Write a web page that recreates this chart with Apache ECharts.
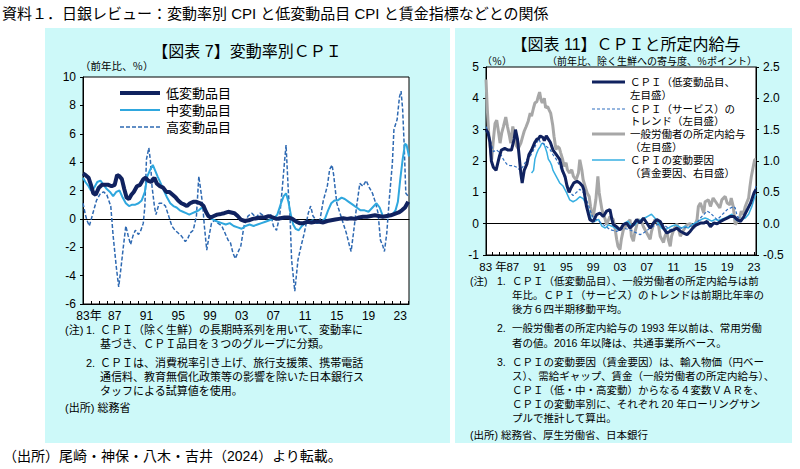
<!DOCTYPE html>
<html><head><meta charset="utf-8">
<script src="https://cdn.jsdelivr.net/npm/echarts/dist/echarts.min.js"></script>
<style>html,body{margin:0;padding:0;background:#fff;}#c{width:800px;height:469px;}</style>
</head><body><div id="c"></div>
<script>
// ---------- Chart 7 (left): CPI by variability, y/y % ----------
const lowVar = [[1983.0,3.2],[1983.3,3.1],[1983.7,2.9],[1984.0,2.4],[1984.3,1.8],[1984.6,1.7],[1985.0,2.2],[1985.4,2.4],[1985.8,2.4],[1986.2,2.4],[1986.6,2.3],[1987.0,2.4],[1987.3,3.1],[1987.6,3.0],[1987.9,2.8],[1988.2,2.1],[1988.5,1.5],[1988.8,1.4],[1989.1,1.7],[1989.4,1.9],[1989.8,2.3],[1990.2,2.4],[1990.6,2.8],[1990.9,2.9],[1991.2,2.7],[1991.6,2.6],[1992.0,2.9],[1992.3,2.5],[1992.7,2.3],[1993.1,2.2],[1993.5,1.9],[1993.9,1.9],[1994.3,1.7],[1994.7,1.5],[1995.0,1.3],[1995.4,1.1],[1995.8,1.0],[1996.1,0.9],[1996.5,1.1],[1996.9,1.2],[1997.3,1.2],[1997.8,1.1],[1998.2,0.9],[1998.5,0.5],[1998.8,0.2],[1999.1,0.1],[1999.5,0.2],[1999.9,0.3],[2000.4,0.35],[2000.8,0.4],[2001.3,0.5],[2001.7,0.45],[2002.1,0.4],[2002.5,0.2],[2002.9,-0.05],[2003.4,-0.15],[2003.9,-0.1],[2004.4,0.0],[2004.9,0.05],[2005.4,0.1],[2005.9,0.1],[2006.4,0.2],[2006.9,0.1],[2007.4,0.0],[2007.9,0.05],[2008.4,0.1],[2008.9,0.1],[2009.4,0.0],[2009.9,-0.2],[2010.3,-0.3],[2010.8,-0.3],[2011.3,-0.2],[2011.8,-0.25],[2012.3,-0.2],[2012.8,-0.2],[2013.3,-0.25],[2013.8,-0.15],[2014.3,-0.1],[2014.8,-0.05],[2015.3,0.0],[2015.8,0.05],[2016.3,0.0],[2016.8,0.05],[2017.3,0.0],[2017.8,0.1],[2018.3,0.15],[2018.8,0.15],[2019.3,0.2],[2019.8,0.25],[2020.3,0.2],[2020.8,0.15],[2021.3,0.2],[2021.8,0.25],[2022.3,0.35],[2022.8,0.45],[2023.2,0.6],[2023.6,0.8],[2024.0,1.2]];
const midVar = [[1983.0,2.9],[1983.3,2.6],[1983.7,2.3],[1984.0,2.0],[1984.4,2.2],[1984.8,2.6],[1985.2,2.7],[1985.6,2.4],[1986.0,2.1],[1986.4,1.9],[1986.8,1.6],[1987.2,1.9],[1987.6,2.0],[1988.0,1.5],[1988.4,1.1],[1988.8,0.9],[1989.2,1.0],[1989.6,1.0],[1990.0,1.1],[1990.4,1.3],[1990.8,1.9],[1991.1,3.0],[1991.5,3.5],[1991.8,3.8],[1992.1,3.4],[1992.4,3.0],[1992.8,2.5],[1993.2,2.0],[1993.6,1.5],[1994.0,1.1],[1994.4,0.9],[1994.8,0.8],[1995.2,0.6],[1995.6,0.5],[1996.0,0.4],[1996.4,0.3],[1996.8,0.4],[1997.2,0.5],[1997.6,0.6],[1998.0,0.8],[1998.4,0.6],[1998.8,0.3],[1999.2,0.0],[1999.6,-0.1],[2000.0,-0.2],[2000.5,-0.3],[2001.0,-0.4],[2001.5,-0.3],[2002.0,-0.5],[2002.5,-0.6],[2003.0,-0.7],[2003.5,-0.5],[2004.0,-0.4],[2004.5,-0.5],[2005.0,-0.4],[2005.5,-0.3],[2006.0,-0.2],[2006.5,-0.1],[2007.0,0.0],[2007.5,0.3],[2007.9,1.0],[2008.3,1.6],[2008.6,1.8],[2008.9,1.2],[2009.2,0.3],[2009.5,-0.4],[2009.8,-0.7],[2010.2,-0.8],[2010.6,-0.5],[2011.0,-0.3],[2011.5,-0.2],[2012.0,-0.1],[2012.5,-0.3],[2013.0,-0.2],[2013.5,0.0],[2013.9,0.6],[2014.3,1.1],[2014.7,1.3],[2015.1,1.3],[2015.6,1.5],[2016.0,1.4],[2016.5,1.2],[2017.0,1.0],[2017.5,0.8],[2018.0,0.6],[2018.5,0.6],[2019.0,0.5],[2019.5,0.8],[2020.0,1.1],[2020.4,0.8],[2020.8,0.2],[2021.2,0.1],[2021.6,0.2],[2022.0,0.3],[2022.4,0.6],[2022.7,1.2],[2023.0,2.8],[2023.3,4.2],[2023.6,5.3],[2023.8,5.2],[2024.1,4.4]];
const highVar = [[1983.0,1.1],[1983.3,0.3],[1983.5,-0.1],[1983.8,-0.5],[1984.3,0.5],[1984.7,1.3],[1985.2,1.8],[1985.6,1.9],[1986.0,1.7],[1986.5,0.9],[1986.8,-1.2],[1987.2,-3.4],[1987.5,-4.8],[1987.8,-3.4],[1988.1,-1.9],[1988.4,-0.5],[1988.7,-1.2],[1989.0,-1.8],[1989.3,-1.2],[1989.6,-0.8],[1990.0,-1.1],[1990.3,-0.8],[1990.6,-0.3],[1990.8,0.9],[1991.0,4.2],[1991.3,5.0],[1991.5,4.1],[1991.7,2.3],[1992.0,0.9],[1992.2,0.3],[1992.6,1.1],[1993.0,1.1],[1993.4,0.9],[1993.8,0.2],[1994.2,-0.5],[1994.6,-0.8],[1995.0,-1.0],[1995.4,-1.2],[1995.9,-1.6],[1996.2,-1.4],[1996.5,-1.0],[1996.9,-0.8],[1997.3,0.2],[1997.6,3.0],[1997.9,1.8],[1998.1,0.9],[1998.3,-0.5],[1998.6,-2.2],[1998.9,-1.2],[1999.2,-0.3],[1999.6,-0.1],[2000.0,-0.3],[2000.5,-0.5],[2000.9,-1.0],[2001.3,-1.5],[2001.6,-1.7],[2001.9,-2.4],[2002.2,-2.8],[2002.5,-2.4],[2002.9,-1.9],[2003.3,-0.5],[2003.8,0.2],[2004.3,0.4],[2004.8,0.1],[2005.3,0.4],[2005.8,0.2],[2006.2,0.0],[2006.7,0.3],[2007.0,-0.5],[2007.4,-0.8],[2007.8,0.2],[2008.1,2.0],[2008.4,4.0],[2008.6,5.2],[2008.9,1.8],[2009.1,0.2],[2009.3,-2.9],[2009.7,-5.1],[2010.1,-2.9],[2010.5,-1.9],[2010.9,-1.0],[2011.4,0.4],[2011.7,0.9],[2012.0,0.2],[2012.4,-0.1],[2012.8,-0.3],[2013.3,1.3],[2013.8,2.3],[2014.1,3.5],[2014.4,3.8],[2014.6,3.1],[2015.0,1.1],[2015.4,0.4],[2015.8,-0.3],[2016.2,-1.0],[2016.6,-1.9],[2016.8,-2.3],[2017.1,-1.0],[2017.5,0.9],[2017.9,2.5],[2018.3,2.3],[2018.7,2.7],[2019.1,2.2],[2019.5,1.8],[2019.9,1.1],[2020.2,0.4],[2020.5,-1.5],[2020.8,-1.9],[2021.0,-2.3],[2021.3,-1.0],[2021.6,1.3],[2022.0,3.9],[2022.2,6.3],[2022.6,7.0],[2022.9,8.6],[2023.1,9.0],[2023.3,7.7],[2023.5,5.1],[2023.7,1.8],[2024.0,1.6]];
const leftNames = ['低変動品目','中変動品目','高変動品目'];
const leftYTicks = {min:-6, max:10, step:2};

// ---------- Chart 11 (right): CPI and scheduled wages ----------
const cpiLow = [[1983.0,3.0],[1983.3,2.9],[1983.6,2.6],[1983.8,2.0],[1984.1,1.8],[1984.5,1.7],[1985.0,2.15],[1985.3,2.35],[1985.8,2.4],[1986.3,2.35],[1986.8,2.35],[1987.2,2.7],[1987.4,3.0],[1987.7,2.7],[1988.0,2.05],[1988.2,1.6],[1988.4,1.3],[1988.7,1.7],[1989.1,1.9],[1989.4,2.2],[1989.8,2.35],[1990.3,2.6],[1990.6,2.7],[1990.8,2.7],[1991.1,2.8],[1991.5,2.75],[1991.7,2.65],[1992.0,2.8],[1992.3,2.7],[1992.6,2.6],[1993.0,2.35],[1993.5,2.2],[1994.0,2.05],[1994.4,1.7],[1994.8,1.5],[1995.1,1.2],[1995.4,1.0],[1995.7,1.15],[1996.1,1.3],[1996.6,1.35],[1997.0,1.3],[1997.4,1.2],[1997.6,1.08],[1998.0,0.55],[1998.5,0.13],[1999.0,0.07],[1999.5,0.29],[2000.0,0.34],[2000.5,0.23],[2001.0,0.4],[2001.5,0.45],[2001.8,0.13],[2002.0,-0.03],[2002.5,-0.1],[2003.0,-0.2],[2003.5,-0.03],[2004.0,0.02],[2004.5,-0.14],[2005.0,-0.03],[2005.5,0.13],[2006.0,0.02],[2006.5,0.18],[2007.0,0.02],[2007.5,-0.14],[2008.0,0.02],[2008.5,0.13],[2009.0,0.07],[2009.5,-0.14],[2010.0,-0.3],[2010.5,-0.24],[2011.0,-0.2],[2011.5,-0.14],[2012.0,-0.24],[2012.5,-0.3],[2013.0,-0.35],[2013.5,-0.24],[2014.0,-0.1],[2014.5,-0.03],[2015.0,0.02],[2015.5,0.02],[2016.0,0.07],[2016.5,-0.1],[2017.0,0.02],[2017.5,0.0],[2018.0,0.07],[2018.5,0.13],[2019.0,0.18],[2019.5,0.23],[2020.0,0.23],[2020.5,0.13],[2021.0,0.07],[2021.5,0.23],[2022.0,0.45],[2022.5,0.66],[2023.0,0.98],[2023.3,1.1]];
const svcTrend = [[1983.0,3.1],[1983.3,2.95],[1983.7,2.6],[1984.1,2.3],[1984.6,2.35],[1985.1,2.25],[1985.6,2.05],[1986.1,1.9],[1986.6,1.85],[1987.1,1.85],[1987.6,1.8],[1988.1,1.7],[1988.6,1.85],[1989.1,2.05],[1989.6,2.15],[1990.1,2.35],[1990.6,2.6],[1990.9,2.7],[1991.1,2.6],[1991.6,2.55],[1992.1,2.45],[1992.6,2.35],[1993.0,2.2],[1993.5,2.05],[1994.0,1.85],[1994.5,1.6],[1995.0,1.3],[1995.5,1.0],[1996.0,0.9],[1996.5,1.0],[1997.0,1.1],[1997.5,1.0],[1998.0,0.77],[1998.5,0.45],[1999.0,0.18],[1999.5,0.13],[2000.5,-0.03],[2001.5,-0.19],[2002.5,-0.25],[2003.5,-0.14],[2004.5,-0.2],[2005.5,-0.3],[2006.0,-0.35],[2006.5,-0.3],[2007.5,-0.14],[2008.5,-0.03],[2009.5,-0.03],[2010.5,-0.19],[2011.5,-0.14],[2012.5,-0.14],[2013.5,-0.08],[2014.5,0.02],[2015.0,0.18],[2015.5,0.29],[2016.0,0.4],[2016.5,0.34],[2017.0,0.23],[2017.5,0.13],[2018.0,0.23],[2018.5,0.34],[2019.0,0.45],[2019.5,0.5],[2020.0,0.55],[2020.2,0.5],[2020.5,0.23],[2021.0,0.13],[2021.5,0.23],[2022.0,0.4],[2022.5,0.66],[2023.0,0.98],[2023.3,1.2]];
const wages = [[1983.0,4.6],[1983.2,3.64],[1983.4,2.9],[1983.6,2.47],[1983.85,2.04],[1984.1,2.68],[1984.35,3.2],[1984.6,3.3],[1984.85,2.95],[1985.1,2.57],[1985.35,2.9],[1985.6,3.1],[1985.95,3.4],[1986.2,3.1],[1986.5,2.8],[1986.7,2.57],[1987.0,3.1],[1987.2,2.9],[1987.5,2.5],[1987.8,2.4],[1988.2,2.57],[1988.5,2.8],[1988.7,2.95],[1989.0,3.1],[1989.3,3.27],[1989.6,3.53],[1989.8,3.43],[1990.1,3.7],[1990.3,3.85],[1990.6,3.9],[1990.8,4.06],[1991.0,4.2],[1991.2,3.96],[1991.4,3.85],[1991.7,4.0],[1991.9,3.7],[1992.2,3.74],[1992.4,3.64],[1992.65,3.53],[1992.95,3.16],[1993.15,2.79],[1993.45,2.36],[1993.65,2.47],[1993.95,2.41],[1994.15,2.26],[1994.45,2.04],[1994.65,1.83],[1994.95,1.94],[1995.15,1.72],[1995.45,1.62],[1995.8,1.72],[1996.05,1.51],[1996.45,1.4],[1996.8,1.62],[1997.0,2.04],[1997.3,1.72],[1997.5,1.4],[1997.8,1.19],[1998.1,0.98],[1998.4,0.87],[1998.6,0.55],[1998.9,0.23],[1999.1,0.34],[1999.4,0.77],[1999.7,1.51],[1999.9,0.98],[2000.3,0.45],[2000.8,0.13],[2001.0,-0.03],[2001.5,0.23],[2002.0,0.13],[2002.3,-0.2],[2002.5,-0.5],[2002.7,-0.72],[2003.0,-0.83],[2003.2,-0.5],[2003.5,-0.2],[2004.0,-0.03],[2004.5,0.13],[2004.7,-0.4],[2005.0,-0.56],[2005.2,-0.3],[2005.7,0.13],[2006.2,0.07],[2006.5,-0.1],[2007.0,-0.3],[2007.5,-0.5],[2007.7,-0.25],[2008.2,0.13],[2008.7,0.02],[2009.0,-0.4],[2009.5,-0.6],[2009.7,-0.4],[2010.0,-0.24],[2010.2,-0.5],[2010.5,-0.72],[2010.7,-0.4],[2011.0,-0.2],[2011.5,0.0],[2011.7,-0.14],[2012.0,-0.4],[2012.5,-0.2],[2013.0,-0.03],[2013.5,0.0],[2014.0,-0.14],[2014.5,0.13],[2014.7,0.55],[2015.0,0.66],[2015.5,0.34],[2015.7,0.7],[2016.2,0.76],[2016.5,0.55],[2016.9,0.82],[2017.4,0.66],[2017.9,0.5],[2018.2,0.76],[2018.7,0.87],[2019.0,0.66],[2019.4,0.6],[2019.6,0.82],[2019.9,0.55],[2020.2,-0.03],[2020.5,0.07],[2020.9,0.23],[2021.1,0.4],[2021.4,0.29],[2021.7,0.55],[2021.9,0.66],[2022.2,0.82],[2022.4,1.19],[2022.6,1.5],[2022.9,1.83],[2023.1,2.04],[2023.3,2.05]];
const wageFactor = [[1989.8,0.81],[1990.1,0.85],[1990.3,1.03],[1990.6,1.13],[1990.8,1.18],[1991.1,1.23],[1991.3,1.28],[1991.6,1.28],[1991.8,1.23],[1992.1,1.13],[1992.3,1.03],[1992.6,0.98],[1992.8,0.93],[1993.0,0.85],[1993.5,0.75],[1994.0,0.65],[1994.5,0.6],[1995.0,0.5],[1995.5,0.38],[1996.0,0.35],[1996.5,0.38],[1997.0,0.43],[1997.5,0.4],[1998.0,0.3],[1998.5,0.15],[1998.8,0.03],[1999.3,0.04],[1999.8,0.07],[2000.3,-0.04],[2000.8,-0.07],[2001.3,-0.02],[2001.8,-0.04],[2002.3,-0.07],[2002.8,-0.1],[2003.2,-0.07],[2003.7,0.01],[2004.2,0.04],[2004.7,-0.04],[2005.2,-0.02],[2005.7,0.04],[2006.2,0.07],[2006.7,0.09],[2007.2,0.12],[2007.7,0.15],[2008.2,0.09],[2008.7,0.01],[2009.2,-0.07],[2009.7,-0.1],[2010.2,-0.07],[2010.7,-0.04],[2011.2,-0.02],[2011.7,-0.04],[2012.2,-0.07],[2012.7,-0.04],[2013.2,-0.07],[2013.7,-0.02],[2014.2,0.01],[2014.7,0.04],[2015.2,0.07],[2015.7,0.09],[2016.2,0.07],[2016.7,0.04],[2017.2,0.07],[2017.7,0.05],[2018.2,0.07],[2018.7,0.09],[2019.2,0.12],[2019.7,0.15],[2020.2,0.07],[2020.7,0.04],[2021.2,0.07],[2021.7,0.09],[2022.2,0.15],[2022.7,0.28],[2023.0,0.39],[2023.3,0.47]];
const rightNames = [['ＣＰＩ（低変動品目、','左目盛）'],['ＣＰＩ（サービス）の','トレンド（左目盛）'],['一般労働者の所定内給与','（左目盛）'],['ＣＰＩの変動要因','（賃金要因、右目盛）']];

// ---------- styling ----------
const NAVY='#10225f', MID='#2fa7de', HIGHC='#2e69b2', GRAY='#a7a7a7', FACT='#37afe2', SVC='#2f6fc0';
const CYAN='#cdf9f9';
const JP='"Liberation Sans", "Noto Sans CJK JP", sans-serif';
const NUM='"Liberation Sans", "Noto Sans CJK JP", sans-serif';

function yearFmt(sep){
  return function(v){
    v = Math.round(v);
    if ((v - 1983) % 4 !== 0) return '';
    const s = String(v % 100).padStart(2, '0');
    return v === 1983 ? '{pad|}' + s + sep + '{n|年}' : s;
  };
}
function T(x, y, s, o){
  return {type:'text', x:x, y:y, z:50, silent:true,
    style:Object.assign({text:s, fill:'#000', fontSize:11, fontFamily:JP,
      align:'left', verticalAlign:'middle', textAlign:'left', textVerticalAlign:'middle'}, o||{})};
}
function L(x1, x2, y, stroke, w, dash){
  return {type:'line', z:50, silent:true, shape:{x1:x1,y1:y,x2:x2,y2:y},
    style:{stroke:stroke, lineWidth:w, lineDash:dash||null}};
}

const graphics = [
  {type:'rect', z:-100, silent:true, shape:{x:45,y:28,width:405,height:415}, style:{fill:CYAN}},
  {type:'rect', z:-100, silent:true, shape:{x:455,y:28,width:337,height:415}, style:{fill:CYAN}},
  T(2, 13, '資料１．日銀レビュー：変動率別 CPI と低変動品目 CPI と賃金指標などとの関係', {fontSize:15}),
  T(247, 51, '【図表 7】変動率別ＣＰＩ', {fontSize:16, align:'center', textAlign:'center'}),
  T(80, 66, '（前年比、％）', {fontSize:10.5}),
  T(626, 44, '【図表 11】ＣＰＩと所定内給与', {fontSize:16, align:'center', textAlign:'center'}),
  T(482, 61, '（％）', {fontSize:10}),
  T(757, 61, '（前年比、除く生鮮への寄与度、％ポイント）', {fontSize:10, align:'right', textAlign:'right'}),
  // left legend
  L(120, 160, 93, NAVY, 4), L(120, 160, 110, MID, 2), L(120, 160, 127, HIGHC, 1.5, [4,2]),
  T(166, 93, leftNames[0], {fontSize:13}), T(166, 110, leftNames[1], {fontSize:13}), T(166, 127, leftNames[2], {fontSize:13}),
  // right legend
  L(592, 625, 82, NAVY, 3), L(592, 625, 109, SVC, 1.2, [3,2]), L(592, 625, 134, GRAY, 3), L(592, 625, 160, FACT, 1.5),
  T(630, 82, rightNames[0][0], {fontSize:10.5}), T(630, 95, rightNames[0][1], {fontSize:10.5}),
  T(630, 109, rightNames[1][0], {fontSize:10.5}), T(630, 121, rightNames[1][1], {fontSize:10.5}),
  T(630, 134, rightNames[2][0], {fontSize:10.5}), T(630, 147, rightNames[2][1], {fontSize:10.5}),
  T(630, 160, rightNames[3][0], {fontSize:10.5}), T(630, 173, rightNames[3][1], {fontSize:10.5}),
  // left notes
  T(65, 330, '(注)'), T(86, 330, '1.'), T(100, 330, 'ＣＰＩ（除く生鮮）の長期時系列を用いて、変動率に'),
  T(100, 344, '基づき、ＣＰＩ品目を３つのグループに分類。'),
  T(86, 363, '2.'), T(100, 363, 'ＣＰＩは、消費税率引き上げ、旅行支援策、携帯電話'),
  T(100, 377, '通信料、教育無償化政策等の影響を除いた日本銀行ス'),
  T(100, 391, 'タッフによる試算値を使用。'),
  T(65, 408, '(出所) 総務省'),
  // right notes
  T(470, 281, '(注)', {fontSize:10.5}), T(497, 281, '1.', {fontSize:10.5}), T(512, 281, 'ＣＰＩ（低変動品目）、一般労働者の所定内給与は前', {fontSize:10.5}),
  T(512, 295, '年比。ＣＰＩ（サービス）のトレンドは前期比年率の', {fontSize:10.5}),
  T(512, 309, '後方６四半期移動平均。', {fontSize:10.5}),
  T(497, 328, '2.', {fontSize:10.5}), T(512, 328, '一般労働者の所定内給与の 1993 年以前は、常用労働', {fontSize:10.5}),
  T(512, 343, '者の値。2016 年以降は、共通事業所ベース。', {fontSize:10.5}),
  T(497, 362, '3.', {fontSize:10.5}), T(512, 362, 'ＣＰＩの変動要因（賃金要因）は、輸入物価（円ベー', {fontSize:10.5}),
  T(512, 376, 'ス）、需給ギャップ、賃金（一般労働者の所定内給与）、', {fontSize:10.5}),
  T(512, 390, 'ＣＰＩ（低・中・高変動）からなる４変数ＶＡＲを、', {fontSize:10.5}),
  T(512, 404, 'ＣＰＩの変動率別に、それぞれ 20 年ローリングサン', {fontSize:10.5}),
  T(512, 418, 'プルで推計して算出。', {fontSize:10.5}),
  T(470, 435, '(出所) 総務省、厚生労働省、日本銀行', {fontSize:10.5}),
  // bottom source
  T(3, 456, '（出所）尾崎・神保・八木・吉井（2024）より転載。', {fontSize:14})
];

const xBase = (grid, max, sep, fs) => ({
  type:'value', gridIndex:grid, min:1983, max:max, interval:1, position:'bottom',
  axisLine:{show:true, onZero:false, lineStyle:{color:'#000', width:1}},
  axisTick:{show:true, inside:true, length:3, lineStyle:{color:'#000'}},
  axisLabel:{formatter:yearFmt(sep), color:'#000', fontSize:fs, fontFamily:NUM, margin:6, lineHeight:fs,
    showMinLabel:true, showMaxLabel:false,
    rich:{pad:{width: sep ? 14 : 12, fontSize:fs, lineHeight:fs}, n:{fontSize:fs, lineHeight:fs, color:'#000', fontFamily:NUM}}},
  splitLine:{show:false}
});
const xZero = (grid, max) => ({
  type:'value', gridIndex:grid, min:1983, max:max,
  axisLine:{show:true, onZero:true, lineStyle:{color:'#000', width:1}},
  axisTick:{show:false}, axisLabel:{show:false}, splitLine:{show:false}
});
const yBase = (grid, min, max, step, pos, fmt) => ({
  type:'value', gridIndex:grid, min:min, max:max, interval:step, position:pos,
  axisLine:{show:true, onZero:false, lineStyle:{color:'#000', width:1}},
  axisTick:{show:true, length:3, lineStyle:{color:'#000'}},
  axisLabel:{color:'#000', fontSize:12, fontFamily:NUM, margin:7, formatter:fmt},
  splitLine:{show:false}
});

const line = (name, data, xi, yi, color, width, dash, z) => ({
  name:name, type:'line', xAxisIndex:xi, yAxisIndex:yi, data:data,
  symbol:'none', showSymbol:false, smooth:false, z:z, animation:false,
  lineStyle:{color:color, width:width, type:dash||'solid'}, itemStyle:{color:color}
});

const chart = echarts.init(document.getElementById('c'), null, {renderer:'svg', width:800, height:469});
chart.setOption({
  backgroundColor:'#ffffff',
  animation:false,
  grid:[
    {left:83, top:77, width:326, height:227, show:true, backgroundColor:'#ffffff', borderColor:'#000', borderWidth:1},
    {left:486, top:67, width:270, height:188, show:true, backgroundColor:'#ffffff', borderColor:'#000', borderWidth:1}
  ],
  xAxis:[ xBase(0, 2024.1, '', 12), xZero(0, 2024.1), xBase(1, 2023.3, ' ', 11.5), xZero(1, 2023.3) ],
  yAxis:[
    yBase(0, leftYTicks.min, leftYTicks.max, leftYTicks.step, 'left'),
    yBase(1, -1, 5, 1, 'left'),
    yBase(1, -0.5, 2.5, 0.5, 'right', v => v.toFixed(1))
  ],
  graphic:graphics,
  series:[
    line(leftNames[2], highVar, 0, 0, HIGHC, 1.5, [4,2], 3),
    line(leftNames[1], midVar, 0, 0, MID, 2, null, 4),
    line(leftNames[0], lowVar, 0, 0, NAVY, 4, null, 5),
    line(rightNames[2].join(''), wages, 2, 1, GRAY, 3, null, 2),
    line(rightNames[3].join(''), wageFactor, 2, 2, FACT, 1.5, null, 3),
    line(rightNames[1].join(''), svcTrend, 2, 1, SVC, 1.2, [3,2], 4),
    line(rightNames[0].join(''), cpiLow, 2, 1, NAVY, 3, null, 5)
  ]
});
</script></body></html>
